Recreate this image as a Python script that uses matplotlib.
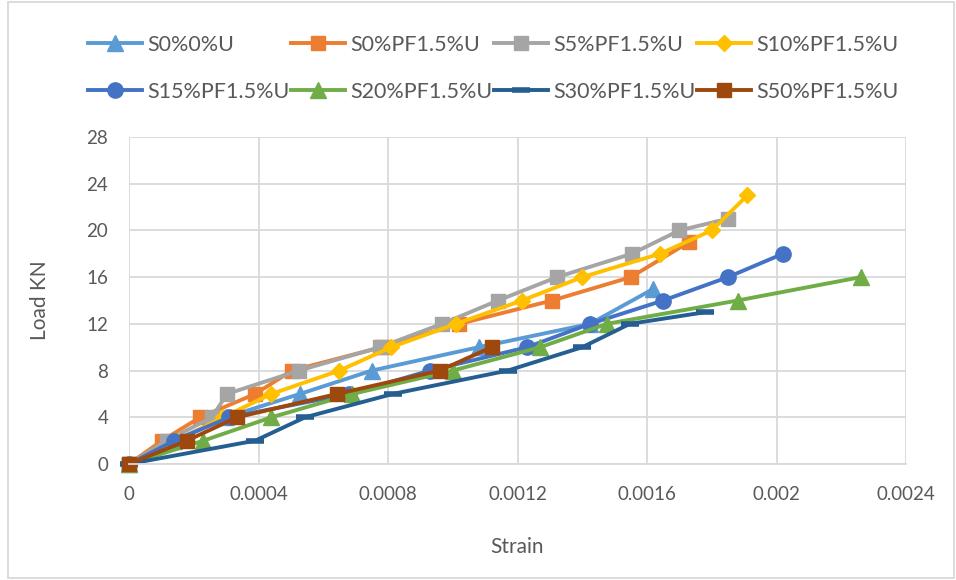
import matplotlib
matplotlib.use('Agg')
from matplotlib import pyplot as plt
from matplotlib.patches import Rectangle
from matplotlib.ticker import FixedLocator, FuncFormatter

# load-strain readings per mix
labels = ['S0%0%U', 'S0%PF1.5%U', 'S5%PF1.5%U', 'S10%PF1.5%U',
          'S15%PF1.5%U', 'S20%PF1.5%U', 'S30%PF1.5%U', 'S50%PF1.5%U']

s0_u_strain = [0, 0.00014, 0.00030, 0.000528, 0.00075, 0.00108, 0.001424, 0.00162]
s0_u_load = [0, 2, 4, 6, 8, 10, 12, 15]

s0_pf_strain = [0, 0.000102, 0.00022, 0.00039, 0.000503, 0.00078, 0.00102, 0.001307, 0.00155, 0.00173]
s0_pf_load = [0, 2, 4, 6, 8, 10, 12, 14, 16, 19]

s5_strain = [0, 0.000117, 0.000256, 0.000303, 0.000525, 0.000775, 0.000967, 0.00114, 0.001322, 0.001553, 0.0017, 0.00185]
s5_load = [0, 2, 4, 6, 8, 10, 12, 14, 16, 18, 20, 21]

s10_strain = [0, 0.00015, 0.00029, 0.00044, 0.00065, 0.00081, 0.00101, 0.001214, 0.0014, 0.00164, 0.0018, 0.00191]
s10_load = [0, 2, 4, 6, 8, 10, 12, 14, 16, 18, 20, 23]

s15_strain = [0, 0.00014, 0.00031, 0.00068, 0.00093, 0.00123, 0.001424, 0.00165, 0.00185, 0.00202]
s15_load = [0, 2, 4, 6, 8, 10, 12, 14, 16, 18]

s20_strain = [0, 0.00023, 0.00044, 0.00069, 0.001, 0.00127, 0.001476, 0.00188, 0.00226]
s20_load = [0, 2, 4, 6, 8, 10, 12, 14, 16]

s30_strain = [0, 0.00039, 0.000544, 0.000815, 0.00117, 0.0014, 0.001547, 0.00178]
s30_load = [0, 2, 4, 6, 8, 10, 12, 13]

s50_strain = [0, 0.000179, 0.000334, 0.000643, 0.00096, 0.00112]
s50_load = [0, 2, 4, 6, 8, 10]

x_ticks = [0, 0.0004, 0.0008, 0.0012, 0.0016, 0.002, 0.0024]
y_ticks = [0, 4, 8, 12, 16, 20, 24, 28]

series = [
    (s0_u_strain, s0_u_load, '#5B9BD5', '^', 11, 1),
    (s0_pf_strain, s0_pf_load, '#ED7D31', 's', 10, 1),
    (s5_strain, s5_load, '#A5A5A5', 's', 10, 1),
    (s10_strain, s10_load, '#FFC000', 'D', 8, 1),
    (s15_strain, s15_load, '#4472C4', 'o', 11, 1),
    (s20_strain, s20_load, '#70AD47', '^', 11, 1),
    (s30_strain, s30_load, '#255E91', '_', 13, 4),
    (s50_strain, s50_load, '#9E480E', 's', 10, 1),
]

plt.rcParams['font.family'] = ['Lato', 'DejaVu Sans']
text_color = '#595959'
grid_color = '#D9D9D9'

fig = plt.figure(figsize=(9.56, 5.8), dpi=100)
ax = fig.add_axes([129 / 956, 1 - 464 / 580, (906 - 129) / 956, (464 - 137) / 580])

handles = []
for (xs, ys, color, marker, ms, mew), name in zip(series, labels):
    line, = ax.plot(xs, ys, color=color, lw=2.8, marker=marker, ms=ms,
                    mew=mew, mec=color, mfc=color, label=name,
                    clip_on=False, solid_joinstyle='round')
    handles.append(line)

ax.set_xlim(0, 0.0024)
ax.set_ylim(0, 28)
ax.xaxis.set_major_locator(FixedLocator(x_ticks))
ax.yaxis.set_major_locator(FixedLocator(y_ticks))
ax.xaxis.set_major_formatter(FuncFormatter(lambda v, p: '0' if v == 0 else f'{v:g}'))
ax.grid(True, color=grid_color, lw=1.3)
ax.set_axisbelow(True)
for side in ['top', 'right', 'left']:
    ax.spines[side].set_visible(False)
ax.spines['bottom'].set_color(grid_color)
ax.spines['bottom'].set_linewidth(1.3)
ax.tick_params(length=0, labelsize=13.5, colors=text_color)
ax.tick_params(axis='x', pad=16)
ax.tick_params(axis='y', pad=15)

ax.set_xlabel('Strain', fontsize=15, color=text_color, labelpad=24)
ax.set_ylabel('Load KN', fontsize=15, color=text_color, labelpad=26)

# legend filled row by row like the source
order = [0, 4, 1, 5, 2, 6, 3, 7]
fig.legend([handles[i] for i in order], [labels[i] for i in order],
           ncol=4, loc='upper left', bbox_to_anchor=(88 / 956, 1 - 35 / 580),
           frameon=False, fontsize=15.5, labelcolor=text_color,
           handlelength=2.5, handletextpad=0.25, columnspacing=0.08,
           labelspacing=1.25, borderaxespad=0, borderpad=0)

fig.patches.append(Rectangle((8 / 956, 2 / 580), 946 / 956, 576 / 580,
                             transform=fig.transFigure, fill=False,
                             ec=grid_color, lw=1.3))

fig.savefig('out.png', dpi=100)
